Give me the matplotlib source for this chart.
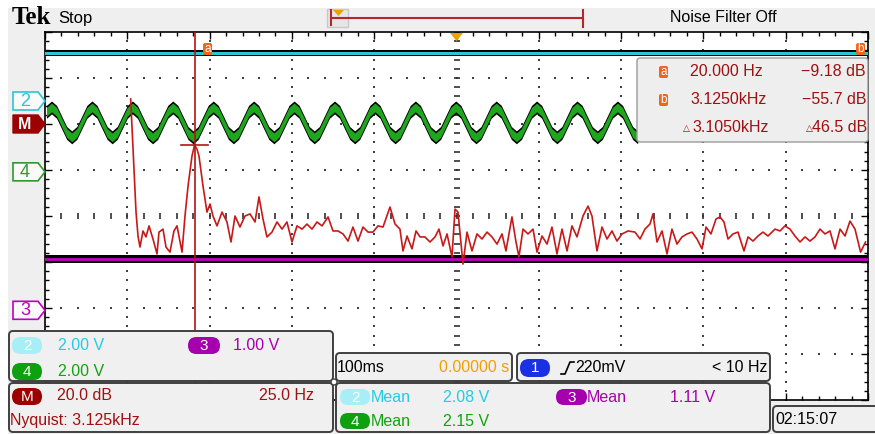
import matplotlib.pyplot as plt
import numpy as np
from matplotlib.patches import FancyBboxPatch, Polygon, Rectangle, Circle

W, H = 875, 434
SANS = ['Liberation Sans', 'DejaVu Sans']
SERIF = ['Liberation Serif', 'DejaVu Serif']

# scope settings
CH2_VDIV = 2.0
CH3_VDIV = 1.0
CH4_VDIV = 2.0
MATH_DB_DIV = 20.0
MATH_HZ_DIV = 25.0
NYQUIST_KHZ = 3.125
TIMEBASE_MS = 100
TRIG_MV = 220
TRIG_HZ_LIMIT = 10
CLOCK = "02:15:07"

# measurements
CH2_MEAN = 2.08
CH3_MEAN = 1.11
CH4_MEAN = 2.15

# cursors on the math (FFT) trace
CURSOR_A_HZ, CURSOR_A_DB = 20.000, -9.18
CURSOR_B_HZ, CURSOR_B_DB = 3125.0, -55.7
CURSOR_A_DIV = 1.817
CURSOR_B_DIV = 9.91

# trace offsets in divisions from screen centre
CH2_POS = 2.5
CH3_POS = -2.05
CH4_POS = 0.96
MATH_POS = 2.0

# channel 4 record (volts), sampled every CH4_DT_MS starting at CH4_T0_MS
CH4_T0_MS = -498.2
CH4_DT_MS = 6.14
ch4_volts = [
    2.61, 2.80, 2.61, 2.15, 1.69, 1.50, 1.69, 2.15,
    2.61, 2.80, 2.61, 2.15, 1.69, 1.50, 1.69, 2.15,
    2.61, 2.80, 2.61, 2.15, 1.69, 1.50, 1.69, 2.15,
    2.61, 2.80, 2.61, 2.15, 1.69, 1.50, 1.69, 2.15,
    2.61, 2.80, 2.61, 2.15, 1.69, 1.50, 1.69, 2.15,
    2.61, 2.80, 2.61, 2.15, 1.69, 1.50, 1.69, 2.15,
    2.61, 2.80, 2.61, 2.15, 1.69, 1.50, 1.69, 2.15,
    2.61, 2.80, 2.61, 2.15, 1.69, 1.50, 1.69, 2.15,
    2.61, 2.80, 2.61, 2.15, 1.69, 1.50, 1.69, 2.15,
    2.61, 2.80, 2.61, 2.15, 1.69, 1.50, 1.69, 2.15,
    2.61, 2.80, 2.61, 2.15, 1.69, 1.50, 1.69, 2.15,
    2.61, 2.80, 2.61, 2.15, 1.69, 1.50, 1.69, 2.15,
    2.61, 2.80, 2.61, 2.15, 1.69, 1.50, 1.69, 2.15,
    2.61, 2.80, 2.61, 2.15, 1.69, 1.50, 1.69, 2.15,
    2.61, 2.80, 2.61, 2.15, 1.69, 1.50,
]

# FFT (math) trace: horizontal position in divisions, level in dB
fft_x_div = [
    1.041, 1.069, 1.106, 1.130, 1.154, 1.191, 1.227, 1.264, 1.312, 1.361,
    1.385, 1.434, 1.470, 1.519, 1.567, 1.604, 1.665, 1.701, 1.738, 1.786,
    1.817, 1.847, 1.871, 1.920, 1.968, 2.005, 2.041, 2.090, 2.151, 2.211,
    2.260, 2.309, 2.369, 2.430, 2.491, 2.552, 2.600, 2.649, 2.697, 2.758,
    2.819, 2.880, 2.940, 3.001, 3.062, 3.123, 3.183, 3.244, 3.305, 3.366,
    3.439, 3.499, 3.560, 3.621, 3.682, 3.742, 3.803, 3.864, 3.925, 3.985,
    4.046, 4.107, 4.192, 4.253, 4.313, 4.350, 4.399, 4.459, 4.508, 4.557,
    4.617, 4.678, 4.739, 4.787, 4.836, 4.885, 4.945, 4.982, 5.018, 5.079,
    5.128, 5.188, 5.249, 5.310, 5.371, 5.431, 5.492, 5.553, 5.601, 5.674,
    5.723, 5.759, 5.808, 5.869, 5.930, 5.978, 6.039, 6.100, 6.160, 6.221,
    6.282, 6.343, 6.403, 6.464, 6.537, 6.598, 6.646, 6.707, 6.768, 6.829,
    6.889, 6.950, 7.011, 7.084, 7.169, 7.230, 7.290, 7.351, 7.388, 7.436,
    7.497, 7.558, 7.618, 7.679, 7.740, 7.801, 7.861, 7.922, 7.983, 8.032,
    8.092, 8.153, 8.202, 8.250, 8.299, 8.360, 8.420, 8.493, 8.542, 8.603,
    8.663, 8.724, 8.785, 8.870, 8.931, 8.991, 9.052, 9.113, 9.174, 9.235,
    9.295, 9.356, 9.417, 9.478, 9.538, 9.599, 9.660, 9.721, 9.781, 9.842,
    9.910, 9.970,
]
fft_db = [
    10.9, -10.0, -38.3, -48.7, -53.5, -46.5, -49.1, -44.3, -50.0, -56.5,
    -47.0, -45.7, -53.5, -55.7, -46.5, -44.3, -55.7, -40.0, -27.0, -13.9,
    -9.18, -10.9, -13.9, -27.0, -38.3, -34.8, -40.0, -44.3, -38.3, -42.6,
    -51.3, -40.0, -44.8, -40.0, -39.1, -42.6, -31.7, -41.3, -49.1, -47.0,
    -42.6, -45.7, -42.6, -51.3, -44.3, -45.7, -43.5, -45.7, -42.6, -44.3,
    -40.4, -46.5, -46.5, -47.8, -50.9, -44.8, -50.9, -44.8, -47.0, -47.0,
    -44.3, -44.8, -36.1, -43.5, -45.7, -55.2, -48.7, -54.3, -46.5, -49.1,
    -49.1, -51.3, -49.1, -45.7, -53.0, -47.8, -57.8, -37.0, -38.3, -60.9,
    -47.0, -55.2, -47.8, -50.0, -47.0, -49.1, -52.2, -47.8, -55.2, -40.4,
    -51.3, -57.8, -45.7, -47.8, -45.7, -55.7, -48.7, -52.2, -44.8, -56.5,
    -45.7, -55.2, -44.3, -49.1, -40.0, -35.7, -40.0, -55.2, -44.8, -50.0,
    -46.5, -50.9, -47.8, -46.5, -47.0, -50.0, -45.7, -43.5, -39.1, -51.3,
    -46.5, -56.5, -45.7, -52.2, -49.1, -47.8, -47.0, -50.0, -54.3, -44.8,
    -47.8, -41.3, -40.4, -42.6, -50.0, -47.8, -47.0, -55.2, -49.1, -50.9,
    -48.7, -47.0, -48.7, -45.7, -46.5, -44.3, -45.7, -48.7, -51.3, -49.1,
    -50.9, -49.1, -45.7, -47.8, -46.5, -54.3, -45.7, -48.7, -42.2, -45.7,
    -55.7, -51.3,
]

CYAN = '#2cc6d2'
CYAN_TXT = '#22cde2'
CYAN_BADGE = '#a8eef6'
GREEN = '#1ea61e'
GREEN_TXT = '#12a312'
MAGENTA = '#c400c4'
PURPLE = '#a600ae'
RED = '#c81818'
DARK_RED = '#a01010'
ORANGE = '#f0a000'
CURSOR_ICON = '#f0641c'
BLUE = '#1a30e4'
BG = '#efefef'

fig = plt.figure(figsize=(W / 100, H / 100), dpi=100)
fig.patch.set_facecolor('white')

bg = fig.add_axes([0, 0, 1, 1], zorder=0)
bg.set_xlim(0, W)
bg.set_ylim(H, 0)
bg.axis('off')
bg.add_patch(Rectangle((8, 8), W - 8, H - 8, fc=BG, ec='none'))

# graticule: 10 x 8 divisions
ax = fig.add_axes([45 / W, 1 - 400 / H, 823 / W, 368 / H], zorder=1)
ax.set_xlim(0, 10)
ax.set_ylim(-4, 4)
ax.set_facecolor('white')
for s in ax.spines.values():
    s.set_linewidth(1.2)
    s.set_color('black')
fine_x = np.arange(0, 10.001, 0.2)
fine_y = np.arange(-4, 4.001, 0.2)
ax.set_xticks(np.arange(0, 11, 1))
ax.set_xticks(fine_x, minor=True)
ax.set_yticks(np.arange(-4, 5, 1))
ax.set_yticks(fine_y, minor=True)
ax.tick_params(which='both', direction='in', top=True, right=True,
               labelbottom=False, labelleft=False, width=1.0, color='black')
ax.tick_params(which='major', length=5)
ax.tick_params(which='minor', length=3)

dot = dict(ls='none', marker='s', ms=1.5, mew=0, color='#404040')
for gx in [1, 2, 3, 4, 6, 7, 8, 9]:
    ax.plot(np.full(fine_y.size, gx), fine_y, **dot)
for gy in [-3, -2, -1, 1, 2, 3]:
    ax.plot(fine_x, np.full(fine_x.size, gy), **dot)
ax.plot(np.full(fine_y.size, 5), fine_y, ls='none', marker='_', ms=4, mew=1.2, color='#303030')
ax.plot(fine_x, np.zeros(fine_x.size), ls='none', marker='|', ms=4, mew=1.2, color='#303030')

# channel 2 and channel 3: flat levels
y2 = CH2_POS + CH2_MEAN / CH2_VDIV
ax.fill_between([0, 10], y2 - 0.07, y2 + 0.07, color='black', lw=0, zorder=3)
ax.plot([0, 10], [y2, y2], color=CYAN, lw=2.2, zorder=3)
y3 = CH3_POS + CH3_MEAN / CH3_VDIV
ax.fill_between([0, 10], y3 - 0.085, y3 + 0.085, color='black', lw=0, zorder=3)
ax.plot([0, 10], [y3, y3], color=MAGENTA, lw=2.0, zorder=3)

# channel 4: 20 Hz signal
t4 = CH4_T0_MS + CH4_DT_MS * np.arange(len(ch4_volts))
x4 = 5 + t4 / TIMEBASE_MS
y4 = CH4_POS + np.array(ch4_volts) / CH4_VDIV
ax.fill_between(x4, y4 - 0.14, y4 + 0.14, color='black', lw=0, zorder=4)
ax.fill_between(x4, y4 - 0.095, y4 + 0.095, color=GREEN, lw=0, zorder=4)

# math: FFT in dB
ym = MATH_POS + np.array(fft_db) / MATH_DB_DIV
ax.plot(fft_x_div, ym, color=RED, lw=1.2, zorder=5)

# cursor a
ya = MATH_POS + CURSOR_A_DB / MATH_DB_DIV
ax.axvline(CURSOR_A_DIV, color='#b41414', lw=1.2, zorder=6)
ax.plot([CURSOR_A_DIV - 0.165, CURSOR_A_DIV + 0.165], [ya, ya], color='#b41414', lw=1.2, zorder=6)

# overlay: labels, readouts, panels
ov = fig.add_axes([0, 0, 1, 1], zorder=3)
ov.set_xlim(0, W)
ov.set_ylim(H, 0)
ov.axis('off')
ov.patch.set_alpha(0)


def div_to_px(xd, yd):
    p = ax.transData.transform((xd, yd))
    return ov.transData.inverted().transform(p)


def txt(x, y, s, color='black', size=11.5, ha='left', **kw):
    ov.text(x, y, s, color=color, fontsize=size, ha=ha, va='center',
            family=kw.pop('family', SANS), **kw)


def badge(x, y, w, h, color, label):
    ov.add_patch(FancyBboxPatch((x, y), w, h, boxstyle=f'round,pad=0,rounding_size={h / 2}',
                                fc=color, ec='none'))
    txt(x + w / 2, y + h / 2 + 0.5, label, color='white', size=11, ha='center')


def tag(yc, color, label, filled=False):
    x0, x1, tip, h = 13, 38, 45, 9
    pts = [(x0, yc - h), (x1, yc - h), (tip, yc), (x1, yc + h), (x0, yc + h)]
    if filled:
        ov.add_patch(Polygon(pts, closed=True, fc=color, ec=color, lw=1))
        txt(25, yc + 0.5, label, color='white', size=11.5, ha='center', weight='bold')
    else:
        ov.add_patch(Polygon(pts, closed=True, fc='#fafafa', ec=color, lw=1.2))
        txt(25, yc + 0.5, label, color=color, size=13, ha='center')


def panel(x, y, w, h):
    ov.add_patch(FancyBboxPatch((x, y), w, h, boxstyle='round,pad=0,rounding_size=4',
                                fc='#f0f0f0', ec='#404040', lw=1.4))


# trace markers on the left
tag(div_to_px(0, CH2_POS)[1], CYAN, '2')
tag(div_to_px(0, MATH_POS)[1], '#9c0000', 'M', filled=True)
tag(div_to_px(0, CH4_POS)[1], '#2e9a2e', '4')
tag(div_to_px(0, CH3_POS)[1], '#c000c0', '3')

# top bar
txt(12, 18, 'Tek', size=18, weight='bold', family=SERIF)
txt(58, 19, 'Stop', size=12)
ov.add_patch(Rectangle((327, 9), 21, 18, fc='#e6e6e6', ec='#c8c8c8', lw=1))
ov.plot([331, 583], [17.5, 17.5], color='#b42828', lw=1.5)
ov.plot([331, 331], [10, 25], color='#b42828', lw=1.5)
ov.plot([583, 583], [10, 27], color='#b42828', lw=1.5)
ov.add_patch(Polygon([(333, 10), (344, 10), (338.5, 16)], closed=True, fc=ORANGE, ec='none'))
trig_x = div_to_px(5, 4)[0]
ov.add_patch(Polygon([(trig_x - 6.5, 33), (trig_x + 6.5, 33), (trig_x, 41)], closed=True,
                     fc=ORANGE, ec='none'))
txt(670, 18, 'Noise Filter Off', size=11.5)

# cursor icons at the top of the graticule
for cx, lab in [(div_to_px(CURSOR_A_DIV, 0)[0] + 13, 'a'), (div_to_px(CURSOR_B_DIV, 0)[0], 'b')]:
    ov.add_patch(FancyBboxPatch((cx - 4.5, 43), 9, 12, boxstyle='round,pad=0,rounding_size=2',
                                fc=CURSOR_ICON, ec='none'))
    txt(cx, 49.5, lab, color='white', size=8.5, ha='center')

# cursor readout box
ov.add_patch(FancyBboxPatch((637, 58), 231, 84, boxstyle='round,pad=0,rounding_size=3',
                            fc='#eeeeee', ec='#9a9a9a', lw=1))
for yy, lab in [(72, 'a'), (100, 'b')]:
    ov.add_patch(FancyBboxPatch((659, yy - 6), 9, 12, boxstyle='round,pad=0,rounding_size=2',
                                fc=CURSOR_ICON, ec='none'))
    txt(663.5, yy, lab, color='white', size=8.5, ha='center')
txt(690, 72, f'{CURSOR_A_HZ:.3f} Hz', color=DARK_RED)
txt(866, 72, f'\u2212{abs(CURSOR_A_DB):.2f} dB', color=DARK_RED, ha='right')
txt(690, 100, f'{CURSOR_B_HZ / 1000:.4f}kHz', color=DARK_RED)
txt(866, 100, f'\u2212{abs(CURSOR_B_DB):.1f} dB', color=DARK_RED, ha='right')
txt(683, 129, '\u25b3', color=DARK_RED, size=6.5, family=['DejaVu Sans'])
txt(692, 127, f'{(CURSOR_B_HZ - CURSOR_A_HZ) / 1000:.4f}kHz', color=DARK_RED)
txt(806, 129, '\u25b3', color=DARK_RED, size=6.5, family=['DejaVu Sans'])
txt(867, 127, f'{CURSOR_A_DB - CURSOR_B_DB:.1f} dB', color=DARK_RED, ha='right')

# bottom panels
panel(9, 331, 324, 50)
panel(9, 383, 324, 49)
panel(336, 353, 176, 28)
panel(517, 353, 253, 28)
panel(336, 383, 434, 49)
panel(773, 406, 110, 26)
ov.add_patch(Circle((334, 382), 3, fc='white', ec='#404040', lw=1))

badge(12, 337, 30, 17, CYAN_BADGE, '2')
txt(58, 345, f'{CH2_VDIV:.2f} V', color=CYAN_TXT)
badge(188, 337, 32, 17, PURPLE, '3')
txt(233, 345, f'{CH3_VDIV:.2f} V', color=PURPLE)
badge(12, 363, 30, 17, '#0fa00f', '4')
txt(58, 371, f'{CH4_VDIV:.2f} V', color=GREEN_TXT)

badge(12, 388, 30, 17, '#9c0000', 'M')
txt(57, 396, f'{MATH_DB_DIV:.1f} dB', color=DARK_RED)
txt(314, 396, f'{MATH_HZ_DIV:.1f} Hz', color=DARK_RED, ha='right')
txt(10, 420, f'Nyquist: {NYQUIST_KHZ:.3f}kHz', color=DARK_RED)

txt(337, 368, f'{TIMEBASE_MS}ms')
txt(509, 368, '0.00000 s', color=ORANGE, ha='right')

badge(520, 359, 30, 18, BLUE, '1')
ov.plot([561, 565, 570, 574], [374, 374, 362, 362], color='black', lw=1.2)
txt(575, 368, f'{TRIG_MV}mV')
txt(767, 368, f'< {TRIG_HZ_LIMIT} Hz', ha='right')

badge(340, 389, 30, 16, CYAN_BADGE, '2')
txt(371, 398, 'Mean', color=CYAN_TXT)
txt(443, 398, f'{CH2_MEAN:.2f} V', color=CYAN_TXT)
badge(556, 389, 31, 16, PURPLE, '3')
txt(587, 398, 'Mean', color=PURPLE)
txt(670, 398, f'{CH3_MEAN:.2f} V', color=PURPLE)
badge(340, 413, 30, 16, '#0fa00f', '4')
txt(371, 421, 'Mean', color=GREEN_TXT)
txt(443, 421, f'{CH4_MEAN:.2f} V', color=GREEN_TXT)

txt(775, 420, CLOCK)

fig.savefig('out.png', dpi=100)
